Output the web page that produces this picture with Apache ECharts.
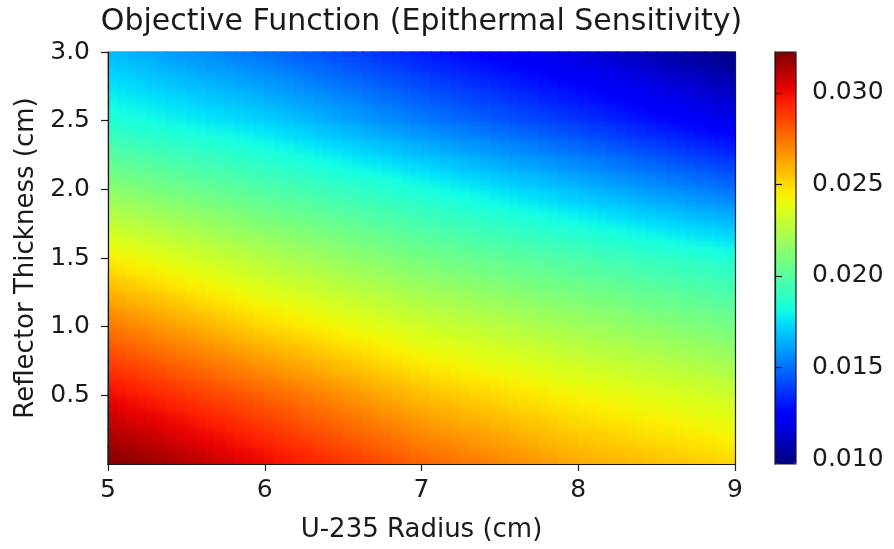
<!DOCTYPE html>
<html><head><meta charset="utf-8">
<script src="https://cdn.jsdelivr.net/npm/echarts@6/dist/echarts.min.js"></script>
<style>html,body{margin:0;padding:0;background:#fff}#c{width:894px;height:549px}</style>
</head><body><div id="c"></div>
<script>
// U-235 radius (cm): grid nodes along x
const radius = [5.00,5.25,5.50,5.75,6.00,6.25,6.50,6.75,7.00,7.25,7.50,7.75,8.00,8.25,8.50,8.75,9.00];
// Reflector thickness (cm): grid nodes along y
const thickness = [0.000,0.125,0.250,0.375,0.500,0.625,0.750,0.875,1.000,1.125,1.250,1.375,1.500,1.625,1.750,1.875,2.000,2.125,2.250,2.375,2.500,2.625,2.750,2.875,3.000];
// Objective value, one row per thickness, columns follow radius
const objective = [
 [0.03220,0.03182,0.03125,0.03068,0.03010,0.02955,0.02900,0.02845,0.02790,0.02748,0.02705,0.02663,0.02620,0.02592,0.02565,0.02538,0.02510],
 [0.03165,0.03124,0.03068,0.03012,0.02955,0.02900,0.02845,0.02790,0.02735,0.02695,0.02654,0.02613,0.02572,0.02545,0.02517,0.02490,0.02462],
 [0.03110,0.03065,0.03010,0.02956,0.02900,0.02845,0.02790,0.02735,0.02680,0.02642,0.02603,0.02564,0.02525,0.02498,0.02470,0.02443,0.02415],
 [0.03055,0.03006,0.02952,0.02899,0.02845,0.02790,0.02735,0.02680,0.02625,0.02588,0.02551,0.02515,0.02478,0.02450,0.02423,0.02396,0.02368],
 [0.03000,0.02948,0.02895,0.02843,0.02790,0.02735,0.02680,0.02625,0.02570,0.02535,0.02500,0.02465,0.02430,0.02403,0.02375,0.02348,0.02320],
 [0.02935,0.02882,0.02828,0.02774,0.02720,0.02668,0.02615,0.02563,0.02510,0.02476,0.02441,0.02407,0.02373,0.02345,0.02316,0.02289,0.02260],
 [0.02870,0.02816,0.02760,0.02706,0.02650,0.02600,0.02550,0.02500,0.02450,0.02417,0.02383,0.02349,0.02315,0.02287,0.02258,0.02229,0.02200],
 [0.02805,0.02749,0.02693,0.02637,0.02580,0.02533,0.02485,0.02438,0.02390,0.02357,0.02324,0.02291,0.02258,0.02228,0.02199,0.02170,0.02140],
 [0.02740,0.02683,0.02625,0.02568,0.02510,0.02465,0.02420,0.02375,0.02330,0.02298,0.02265,0.02233,0.02200,0.02170,0.02140,0.02110,0.02080],
 [0.02668,0.02612,0.02556,0.02501,0.02445,0.02401,0.02356,0.02312,0.02268,0.02236,0.02204,0.02172,0.02140,0.02110,0.02080,0.02050,0.02020],
 [0.02595,0.02542,0.02488,0.02434,0.02380,0.02337,0.02293,0.02249,0.02205,0.02174,0.02143,0.02112,0.02080,0.02050,0.02020,0.01990,0.01960],
 [0.02523,0.02471,0.02419,0.02367,0.02315,0.02272,0.02229,0.02186,0.02143,0.02112,0.02081,0.02051,0.02020,0.01990,0.01960,0.01930,0.01900],
 [0.02450,0.02400,0.02350,0.02300,0.02250,0.02208,0.02165,0.02123,0.02080,0.02050,0.02020,0.01990,0.01960,0.01930,0.01900,0.01870,0.01840],
 [0.02373,0.02325,0.02278,0.02230,0.02183,0.02142,0.02100,0.02059,0.02018,0.01985,0.01953,0.01920,0.01888,0.01855,0.01821,0.01788,0.01755],
 [0.02295,0.02250,0.02205,0.02160,0.02115,0.02076,0.02035,0.01996,0.01955,0.01920,0.01885,0.01850,0.01815,0.01779,0.01743,0.01707,0.01670],
 [0.02218,0.02175,0.02133,0.02090,0.02048,0.02009,0.01970,0.01932,0.01893,0.01855,0.01818,0.01780,0.01743,0.01704,0.01664,0.01625,0.01585],
 [0.02140,0.02100,0.02060,0.02020,0.01980,0.01943,0.01905,0.01868,0.01830,0.01790,0.01750,0.01710,0.01670,0.01628,0.01585,0.01543,0.01500],
 [0.02068,0.02030,0.01991,0.01953,0.01915,0.01876,0.01835,0.01796,0.01755,0.01715,0.01675,0.01635,0.01595,0.01552,0.01509,0.01466,0.01423],
 [0.01995,0.01959,0.01923,0.01887,0.01850,0.01808,0.01765,0.01723,0.01680,0.01640,0.01600,0.01560,0.01520,0.01477,0.01433,0.01389,0.01345],
 [0.01923,0.01889,0.01854,0.01820,0.01785,0.01741,0.01695,0.01651,0.01605,0.01565,0.01525,0.01485,0.01445,0.01401,0.01356,0.01312,0.01268],
 [0.01850,0.01818,0.01785,0.01753,0.01720,0.01673,0.01625,0.01578,0.01530,0.01490,0.01450,0.01410,0.01370,0.01325,0.01280,0.01235,0.01190],
 [0.01805,0.01771,0.01735,0.01701,0.01665,0.01618,0.01570,0.01523,0.01475,0.01435,0.01395,0.01355,0.01315,0.01271,0.01226,0.01182,0.01138],
 [0.01760,0.01723,0.01685,0.01648,0.01610,0.01563,0.01515,0.01468,0.01420,0.01380,0.01340,0.01300,0.01260,0.01217,0.01173,0.01129,0.01085],
 [0.01715,0.01676,0.01635,0.01596,0.01555,0.01508,0.01460,0.01413,0.01365,0.01325,0.01285,0.01245,0.01205,0.01162,0.01119,0.01076,0.01033],
 [0.01670,0.01628,0.01585,0.01543,0.01500,0.01453,0.01405,0.01358,0.01310,0.01270,0.01230,0.01190,0.01150,0.01108,0.01065,0.01023,0.00980]
];
const radiusTicks = [5, 6, 7, 8, 9];
const thicknessTicks = [0.5, 1.0, 1.5, 2.0, 2.5, 3.0];
const colorbarTicks = [0.010, 0.015, 0.020, 0.025, 0.030];
const colorRange = [0.00973, 0.03223];
const jet = ['#000080','#0000a4','#0000c8','#0000ec','#0000ff','#0020ff','#0040ff','#0060ff','#0080ff','#009fff','#00bfff','#00dffc','#15ffe2','#2effc8','#48ffaf','#62ff95','#7bff7b','#95ff62','#afff48','#c8ff2e','#e2ff15','#fcf000','#ffd200','#ffb500','#ff9700','#ff7a00','#ff5c00','#ff3e00','#ff2100','#ec0400','#c80000','#a40000','#800000'];

const PLOT = {left: 108, top: 52, width: 627, height: 412};
const CBAR = {left: 775, top: 52, width: 21, height: 412};
const INK = '#1a1a1a';
const FONT = 'DejaVu Sans';
const FS = 25;
const NAME_FS = 26;
const STRIPS = 4;   // shading sub-strips per cell (gouraud-like rendering)
const BLEED = 0.7;  // px overlap between neighbouring strips to hide anti-alias seams

// one item per grid node; the cell to the upper-right of each node is shaded from its 4 corners
const cells = [];
thickness.forEach((t, j) => radius.forEach((r, i) => cells.push([r, t, objective[j][i], i, j])));

const colorOf = v => echarts.color.lerp(
  Math.min(1, Math.max(0, (v - colorRange[0]) / (colorRange[1] - colorRange[0]))), jet);

const chart = echarts.init(document.getElementById('c'), null, {renderer: 'canvas'});
const lineStyle = {color: INK, width: 1.2};
chart.setOption({
  animation: false,
  backgroundColor: '#fff',
  textStyle: {fontFamily: FONT, color: INK},
  grid: [
    {left: PLOT.left, top: PLOT.top, width: PLOT.width, height: PLOT.height},
    {left: CBAR.left, top: CBAR.top, width: CBAR.width, height: CBAR.height}
  ],
  xAxis: [
    {gridIndex: 0, type: 'value', min: 5, max: 9, interval: 1, z: 10,
     name: 'U-235 Radius (cm)', nameLocation: 'middle', nameGap: 53,
     nameTextStyle: {fontSize: NAME_FS, fontFamily: FONT, color: INK},
     axisLine: {show: true, lineStyle}, axisTick: {show: true, length: 7, lineStyle},
     axisLabel: {fontSize: FS, fontFamily: FONT, color: INK, margin: 14, customValues: radiusTicks, formatter: v => String(v)},
     splitLine: {show: false}},
    {gridIndex: 0, type: 'value', min: 5, max: 9, position: 'top', z: 10,
     axisLine: {show: true, lineStyle}, axisTick: {show: false}, axisLabel: {show: false}, splitLine: {show: false}},
    {gridIndex: 1, type: 'value', min: 0, max: 1, show: false}
  ],
  yAxis: [
    {gridIndex: 0, type: 'value', min: 0, max: 3, z: 10,
     name: 'Reflector Thickness (cm)', nameLocation: 'middle', nameGap: 66, nameRotate: 90,
     nameTextStyle: {fontSize: NAME_FS, fontFamily: FONT, color: INK},
     axisLine: {show: true, lineStyle},
     axisTick: {show: true, length: 7, lineStyle, customValues: thicknessTicks},
     axisLabel: {fontSize: FS, fontFamily: FONT, color: INK, margin: 18, customValues: thicknessTicks, formatter: v => v.toFixed(1)},
     splitLine: {show: false}},
    {gridIndex: 0, type: 'value', min: 0, max: 3, position: 'right', z: 10,
     axisLine: {show: true, lineStyle}, axisTick: {show: false}, axisLabel: {show: false}, splitLine: {show: false}},
    {gridIndex: 1, type: 'value', min: colorRange[0], max: colorRange[1], position: 'right', z: 10,
     axisLine: {show: true, lineStyle},
     axisTick: {show: true, length: 7, lineStyle, customValues: colorbarTicks},
     axisLabel: {fontSize: FS, fontFamily: FONT, color: INK, margin: 16, customValues: colorbarTicks, formatter: v => v.toFixed(3)},
     splitLine: {show: false}}
  ],
  visualMap: {
    type: 'continuous', min: colorRange[0], max: colorRange[1], dimension: 2, seriesIndex: 0,
    calculable: false, hoverLink: false, orient: 'vertical', padding: 0,
    left: CBAR.left, top: CBAR.top, itemWidth: CBAR.width, itemHeight: CBAR.height,
    text: null, inRange: {color: jet}
  },
  graphic: [
    {type: 'text', z: 100, style: {text: 'Objective Function (Epithermal Sensitivity)', x: PLOT.left + PLOT.width / 2, y: 22,
      textAlign: 'center', textVerticalAlign: 'middle', font: '30px "DejaVu Sans"', fill: INK}},
    {type: 'rect', z: 100, silent: true, shape: {x: CBAR.left, y: CBAR.top, width: CBAR.width, height: CBAR.height},
      style: {fill: null, stroke: INK, lineWidth: 1.2}}
  ],
  series: [{
    type: 'custom', xAxisIndex: 0, yAxisIndex: 0, z: 2,
    encode: {x: 0, y: 1},
    data: cells,
    renderItem: (params, api) => {
      const i = api.value(3), j = api.value(4);
      if (i >= radius.length - 1 || j >= thickness.length - 1) return null;
      const x0 = radius[i], x1 = radius[i + 1], y0 = thickness[j], y1 = thickness[j + 1];
      const v00 = objective[j][i], v10 = objective[j][i + 1], v01 = objective[j + 1][i], v11 = objective[j + 1][i + 1];
      const pBL = api.coord([x0, y0]);
      const pTR = api.coord([x1, y1]);
      const w = (pTR[0] - pBL[0]) / STRIPS;
      const h = pBL[1] - pTR[1];
      const children = [];
      for (let k = 0; k < STRIPS; k++) {
        const u = (k + 0.5) / STRIPS;
        const vb = v00 + (v10 - v00) * u;
        const vt = v01 + (v11 - v01) * u;
        children.push({
          type: 'rect',
          shape: {x: pBL[0] + k * w - BLEED, y: pTR[1] - BLEED, width: w + 2 * BLEED, height: h + 2 * BLEED},
          style: {fill: new echarts.graphic.LinearGradient(0, 1, 0, 0, [
            {offset: 0, color: colorOf(vb)},
            {offset: 0.5, color: colorOf((vb + vt) / 2)},
            {offset: 1, color: colorOf(vt)}
          ]), stroke: null}
        });
      }
      return {type: 'group', children};
    }
  }]
});
</script></body></html>
